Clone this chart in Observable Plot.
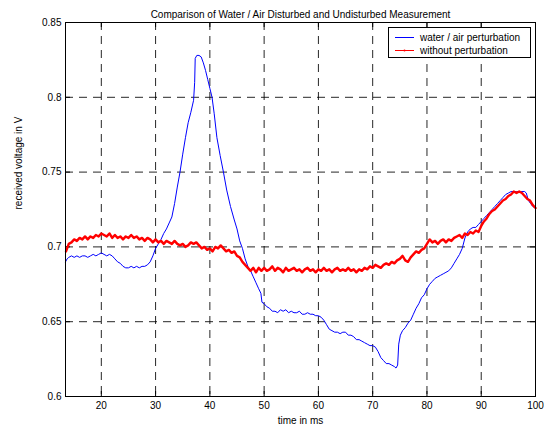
<!DOCTYPE html>
<html><head><meta charset="utf-8">
<script src="https://cdn.jsdelivr.net/npm/d3@7"></script>
<script src="https://cdn.jsdelivr.net/npm/@observablehq/plot@0.6"></script>
<style>
body{margin:0;background:#fff}
#wrap{position:relative;width:544px;height:432px;font-family:"Liberation Sans",Arial,sans-serif}
#legend{position:absolute;left:388px;top:27px;width:143px;height:31px;border:1px solid #000;background:#fff;box-sizing:border-box;font-size:10px;color:#000}
#legend svg{position:absolute;left:0;top:0}
</style></head><body><div id="wrap"></div>
<script>
const chartTitle = "Comparison of Water / Air Disturbed and Undisturbed Measurement";
const xLabel = "time in ms";
const yLabel = "received voltage in V";
const seriesNames = ["water / air perturbation", "without perturbation"];
const seriesColors = ["#0000ff", "#ff0000"];
const xTicks = [20, 30, 40, 50, 60, 70, 80, 90, 100];
const yTicks = [0.6, 0.65, 0.7, 0.75, 0.8, 0.85];
const xDomain = [13.4, 100];
const yDomain = [0.6, 0.85];

const blueTime = [13.4,13.7,14.0,14.5,15.0,15.5,16.0,16.5,17.0,17.5,18.0,18.5,19.0,19.5,20.0,20.5,21.0,21.5,22.0,22.5,23.0,23.5,24.0,24.5,25.0,25.5,26.0,26.5,27.0,27.5,28.0,28.5,29.0,29.5,30.0,30.5,31.0,31.5,32.0,32.5,33.0,33.5,34.0,34.5,35.0,35.5,36.0,36.5,37.0,37.2,37.3,37.6,38.0,38.4,38.8,39.2,39.6,40.0,40.4,40.8,41.3,41.9,42.5,43.1,43.8,44.5,45.0,45.5,46.0,46.5,47.0,47.5,48.0,48.5,49.0,49.4,49.6,50.0,50.5,51.0,51.5,52.0,52.5,53.0,53.5,54.0,54.5,55.0,55.5,56.0,56.5,57.0,57.5,58.0,58.5,59.0,59.5,60.0,60.5,61.0,61.5,62.0,62.5,63.0,63.5,64.0,64.5,65.0,65.5,66.0,66.5,67.0,67.5,68.0,68.5,69.0,69.5,70.0,70.5,71.0,71.5,72.0,72.5,73.0,73.5,74.0,74.3,74.6,74.8,75.1,75.5,76.0,76.5,77.0,77.5,78.0,78.5,79.0,79.5,80.0,80.5,81.0,81.5,82.0,82.5,83.0,83.5,84.0,84.5,85.0,85.5,86.0,86.5,87.0,87.5,88.0,88.5,89.0,89.5,90.0,90.5,91.0,91.5,92.0,92.5,93.0,93.5,94.0,94.5,95.0,95.5,96.0,96.5,97.0,97.5,98.0,98.3,98.7,99.1,99.5,100.0];
const blueVolt = [0.690,0.692,0.693,0.694,0.693,0.694,0.693,0.694,0.694,0.693,0.694,0.695,0.694,0.695,0.696,0.695,0.694,0.695,0.694,0.692,0.690,0.689,0.687,0.686,0.686,0.687,0.686,0.687,0.686,0.687,0.687,0.688,0.690,0.694,0.699,0.702,0.705,0.709,0.712,0.716,0.720,0.729,0.740,0.750,0.762,0.773,0.783,0.790,0.798,0.810,0.826,0.828,0.828,0.827,0.823,0.818,0.812,0.806,0.800,0.789,0.773,0.761,0.750,0.738,0.727,0.718,0.712,0.704,0.699,0.692,0.687,0.684,0.680,0.676,0.672,0.669,0.663,0.662,0.660,0.659,0.657,0.657,0.656,0.658,0.657,0.658,0.656,0.657,0.656,0.656,0.657,0.655,0.655,0.656,0.655,0.655,0.654,0.654,0.653,0.651,0.648,0.645,0.644,0.643,0.643,0.642,0.643,0.643,0.641,0.641,0.640,0.638,0.638,0.637,0.636,0.635,0.634,0.634,0.633,0.630,0.626,0.624,0.622,0.622,0.621,0.620,0.619,0.621,0.635,0.641,0.644,0.646,0.649,0.651,0.655,0.659,0.662,0.666,0.668,0.672,0.675,0.677,0.679,0.680,0.681,0.682,0.683,0.684,0.686,0.689,0.692,0.695,0.699,0.706,0.710,0.712,0.713,0.713,0.715,0.717,0.719,0.721,0.723,0.725,0.727,0.729,0.731,0.733,0.735,0.736,0.737,0.737,0.737,0.737,0.737,0.737,0.736,0.731,0.729,0.727,0.726];

const redTime = [13.5,14.0,14.5,15.0,15.5,16.0,16.5,17.0,17.5,18.0,18.5,19.0,19.5,20.0,20.5,21.0,21.5,22.0,22.5,23.0,23.5,24.0,24.5,25.0,25.5,26.0,26.5,27.0,27.5,28.0,28.5,29.0,29.5,30.0,30.5,31.0,31.5,32.0,32.5,33.0,33.5,34.0,34.5,35.0,35.5,36.0,36.5,37.0,37.5,38.0,38.5,39.0,39.5,40.0,40.5,41.0,41.5,42.0,42.5,43.0,43.5,44.0,44.5,45.0,45.5,46.0,46.5,47.0,47.5,48.0,48.5,49.0,49.5,50.0,50.5,51.0,51.5,52.0,52.5,53.0,53.5,54.0,54.5,55.0,55.5,56.0,56.5,57.0,57.5,58.0,58.5,59.0,59.5,60.0,60.5,61.0,61.5,62.0,62.5,63.0,63.5,64.0,64.5,65.0,65.5,66.0,66.5,67.0,67.5,68.0,68.5,69.0,69.5,70.0,70.5,71.0,71.5,72.0,72.5,73.0,73.5,74.0,74.5,75.0,75.5,76.0,76.5,77.0,77.5,78.0,78.5,79.0,79.5,80.0,80.5,81.0,81.5,82.0,82.5,83.0,83.5,84.0,84.5,85.0,85.5,86.0,86.5,87.0,87.5,88.0,88.5,89.0,89.5,90.0,90.5,91.0,91.5,92.0,92.5,93.0,93.5,94.0,94.5,95.0,95.5,96.0,96.5,97.0,97.5,98.0,98.5,99.0,99.5,100.0];
const redVolt = [0.697,0.702,0.703,0.705,0.704,0.706,0.705,0.707,0.705,0.707,0.706,0.708,0.707,0.709,0.708,0.707,0.709,0.706,0.708,0.706,0.707,0.705,0.707,0.706,0.708,0.706,0.707,0.705,0.706,0.704,0.706,0.705,0.703,0.705,0.703,0.704,0.702,0.704,0.703,0.702,0.704,0.702,0.701,0.702,0.700,0.701,0.703,0.702,0.703,0.701,0.699,0.700,0.698,0.699,0.697,0.700,0.699,0.701,0.699,0.697,0.698,0.696,0.697,0.694,0.693,0.690,0.688,0.686,0.684,0.686,0.683,0.686,0.684,0.686,0.684,0.685,0.687,0.684,0.686,0.685,0.683,0.686,0.684,0.685,0.686,0.684,0.685,0.683,0.685,0.686,0.684,0.685,0.683,0.685,0.684,0.686,0.684,0.685,0.683,0.685,0.686,0.684,0.685,0.684,0.686,0.684,0.685,0.683,0.685,0.684,0.686,0.685,0.687,0.686,0.688,0.687,0.686,0.688,0.689,0.688,0.690,0.689,0.691,0.692,0.694,0.691,0.690,0.693,0.695,0.697,0.696,0.698,0.699,0.702,0.705,0.703,0.704,0.702,0.704,0.705,0.703,0.705,0.704,0.706,0.707,0.708,0.706,0.709,0.708,0.710,0.709,0.711,0.710,0.714,0.717,0.719,0.722,0.724,0.725,0.727,0.729,0.731,0.732,0.734,0.735,0.737,0.736,0.737,0.736,0.734,0.732,0.731,0.728,0.726];

const blue = blueTime.map((t, i) => ({t, v: blueVolt[i]}));
const red = redTime.map((t, i) => ({t, v: redVolt[i]}));

const W = 544, H = 432, mL = 65, mR = 9, mT = 22, mB = 36;
const fw = W - mL - mR, fh = H - mT - mB;
const tick = 5;

const chart = Plot.plot({
  width: W, height: H,
  marginLeft: mL, marginRight: mR, marginTop: mT, marginBottom: mB,
  style: {fontFamily: '"Liberation Sans", Arial, sans-serif', fontSize: "10px", background: "#fff", color: "#000"},
  x: {domain: xDomain},
  y: {domain: yDomain},
  marks: [
    Plot.gridX(xTicks.filter(d => d < 100), {stroke: "#000", strokeOpacity: 0.85, strokeDasharray: "8,6"}),
    Plot.gridY(yTicks.filter(d => d > 0.6 && d < 0.85), {stroke: "#000", strokeOpacity: 0.85, strokeDasharray: "8,6"}),
    Plot.tickX(xTicks, {x: d => d, insetTop: fh - tick, stroke: "#000"}),
    Plot.tickX(xTicks, {x: d => d, insetBottom: fh - tick, stroke: "#000"}),
    Plot.tickY(yTicks, {y: d => d, insetRight: fw - tick, stroke: "#000"}),
    Plot.tickY(yTicks, {y: d => d, insetLeft: fw - tick, stroke: "#000"}),
    Plot.axisX(xTicks, {tickSize: 0, tickPadding: 5, label: null, fontSize: 10}),
    Plot.axisY(yTicks, {tickSize: 0, tickPadding: 4, label: null, fontSize: 10, tickFormat: d => String(+d.toFixed(2))}),
    Plot.line(blue, {x: "t", y: "v", stroke: seriesColors[0], strokeWidth: 1}),
    Plot.line(red, {x: "t", y: "v", stroke: seriesColors[1], strokeWidth: 2.4}),
    Plot.frame({stroke: "#000", strokeWidth: 1}),
    Plot.text([chartTitle], {frameAnchor: "top", dy: -12, fontSize: 10}),
    Plot.text([xLabel], {frameAnchor: "bottom", dy: 27, fontSize: 10}),
    Plot.text([yLabel], {frameAnchor: "left", dx: -47, rotate: -90, fontSize: 10})
  ]
});
const wrap = document.getElementById("wrap");
wrap.appendChild(chart);

const legend = document.createElement("div");
legend.id = "legend";
const ns = "http://www.w3.org/2000/svg";
const lsvg = document.createElementNS(ns, "svg");
lsvg.setAttribute("width", 141); lsvg.setAttribute("height", 29);
seriesNames.forEach((name, i) => {
  const y = 9.5 + i * 13;
  const ln = document.createElementNS(ns, "line");
  ln.setAttribute("x1", 6); ln.setAttribute("x2", 25);
  ln.setAttribute("y1", y); ln.setAttribute("y2", y);
  ln.setAttribute("stroke", seriesColors[i]);
  ln.setAttribute("stroke-width", 1);
  lsvg.appendChild(ln);
  if (i === 1) {
    const c = document.createElementNS(ns, "circle");
    c.setAttribute("cx", 15.5); c.setAttribute("cy", y); c.setAttribute("r", 1);
    c.setAttribute("fill", seriesColors[i]);
    lsvg.appendChild(c);
  }
  const tx = document.createElementNS(ns, "text");
  tx.setAttribute("x", 31); tx.setAttribute("y", y + 3.5);
  tx.setAttribute("font-size", 10);
  tx.setAttribute("font-family", '"Liberation Sans", Arial, sans-serif');
  tx.textContent = name;
  lsvg.appendChild(tx);
});
legend.appendChild(lsvg);
wrap.appendChild(legend);
</script></body></html>
